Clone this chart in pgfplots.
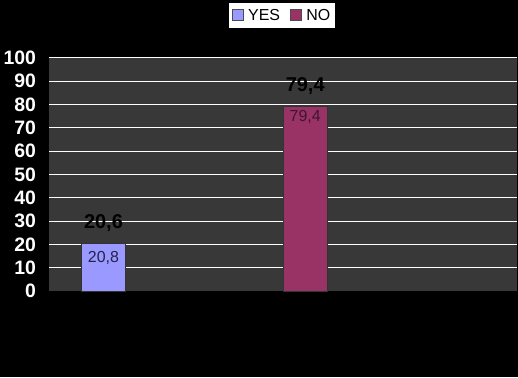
\documentclass[border=0pt]{standalone}
\usepackage{pgfplots}
\pgfplotsset{compat=1.18}
\usepackage{fontspec}
\setmainfont{Liberation Sans}
\definecolor{yescol}{HTML}{9999FF}
\definecolor{nocol}{HTML}{993366}
\definecolor{plotbg}{HTML}{383838}
\definecolor{yeslab}{HTML}{22224A}
\definecolor{nolab}{HTML}{401530}
\begin{document}
\begin{tikzpicture}[x=1bp,y=1bp]
\useasboundingbox (0,0) rectangle (518,377);
\fill[black] (0,0) rectangle (518,377);
\begin{axis}[
 at={(49bp,86bp)}, anchor=south west,
 scale only axis, width=468bp, height=233bp,
 xmin=-0.27, xmax=2.05, ymin=0, ymax=100,
 ytick={0,10,...,100},
 extra y ticks={10,20,...,100}, extra y tick labels={},
 extra y tick style={grid=major, grid style={white, line width=1bp}},
 xtick=\empty,
 axis background/.style={fill=plotbg},
 axis line style={draw=none},
 major tick length=0pt,
 /pgf/number format/assume math mode=true,
 yticklabel style={font=\bfseries\fontsize{19.5}{19.5}\selectfont, text=white, xshift=-9.5bp},
 ybar, bar width=0.22, bar shift=0pt,
 legend style={at={(0.498,1.236)}, anchor=north, fill=white, draw=none,
   font=\fontsize{16}{16}\selectfont, legend columns=2,
   inner xsep=3bp, inner ysep=4bp,
   /tikz/column 1/.style={column sep=3bp},
   /tikz/column 2/.style={column sep=8bp},
   /tikz/column 3/.style={column sep=3bp}},
 legend image code/.code={\draw[#1,draw=black!70] (0bp,-5bp) rectangle (11bp,6bp);},
]
\addplot[fill=yescol, draw=black!80] coordinates {(0,20.6)};
\addlegendentry{YES}
\addplot[fill=nocol, draw=black!80] coordinates {(1,79.4)};
\addlegendentry{NO}
\node[font=\bfseries\fontsize{20}{20}\selectfont, text=black] at (axis cs:0,29.2) {20,6};
\node[font=\bfseries\fontsize{20}{20}\selectfont, text=black] at (axis cs:1,88) {79,4};
\node[font=\fontsize{16}{16}\selectfont, text=yeslab] at (axis cs:0,14.2) {20,8};
\node[font=\fontsize{16}{16}\selectfont, text=nolab] at (axis cs:1,74.7) {79,4};
\end{axis}
\end{tikzpicture}
\end{document}
